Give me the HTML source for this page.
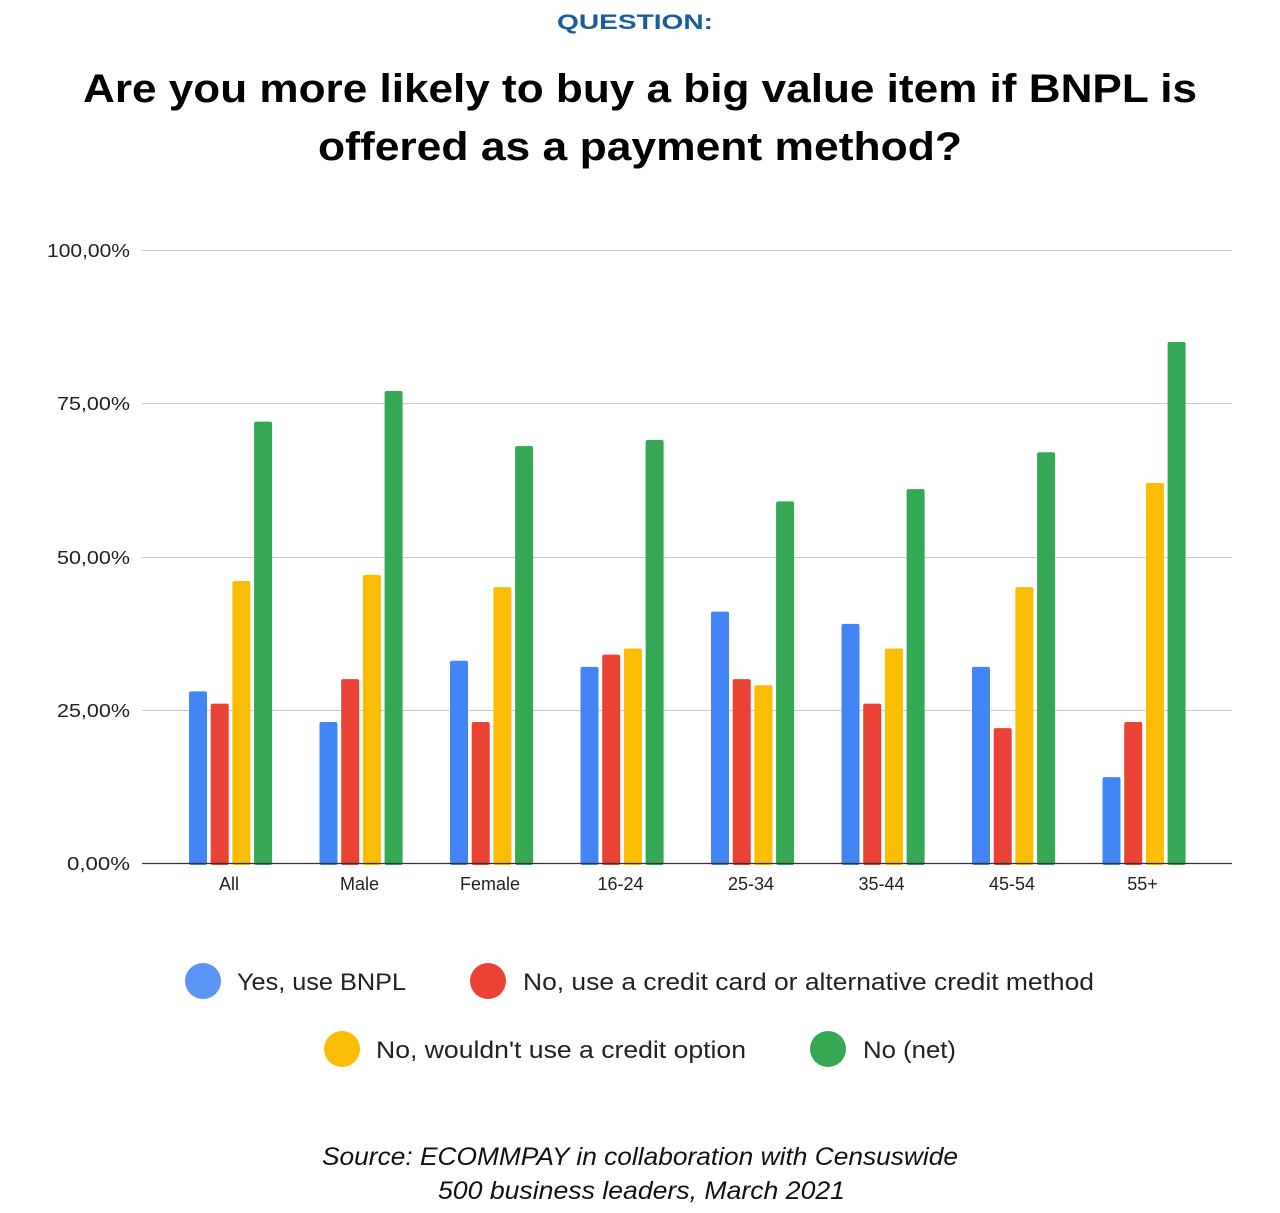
<!DOCTYPE html>
<html><head><meta charset="utf-8"><style>
body{margin:0;background:#fff;width:1280px;height:1208px;overflow:hidden;font-family:"Liberation Sans",sans-serif;}
</style></head><body>
<svg width="1280" height="1208" xmlns="http://www.w3.org/2000/svg" font-family="Liberation Sans, sans-serif">
<text x="557" y="29" font-size="21" font-weight="bold" fill="#1c5c9a" textLength="156" lengthAdjust="spacingAndGlyphs">QUESTION:</text>
<text x="83" y="102" font-size="40" font-weight="bold" fill="#000" textLength="1114" lengthAdjust="spacingAndGlyphs">Are you more likely to buy a big value item if BNPL is</text>
<text x="318" y="160" font-size="40" font-weight="bold" fill="#000" textLength="644" lengthAdjust="spacingAndGlyphs">offered as a payment method?</text>
<g stroke="#cccccc" stroke-width="1">
<line x1="142" y1="250.5" x2="1232" y2="250.5"/>
<line x1="142" y1="403.5" x2="1232" y2="403.5"/>
<line x1="142" y1="557.5" x2="1232" y2="557.5"/>
<line x1="142" y1="710.5" x2="1232" y2="710.5"/>
</g>
<g font-size="18" fill="#222">
<text x="47" y="257" textLength="83" lengthAdjust="spacingAndGlyphs">100,00%</text>
<text x="57" y="410" textLength="73" lengthAdjust="spacingAndGlyphs">75,00%</text>
<text x="57" y="564" textLength="73" lengthAdjust="spacingAndGlyphs">50,00%</text>
<text x="57" y="717" textLength="73" lengthAdjust="spacingAndGlyphs">25,00%</text>
<text x="67" y="870" textLength="63" lengthAdjust="spacingAndGlyphs">0,00%</text>
</g>
<g id="bars"></g>
<line x1="142" y1="863.5" x2="1232" y2="863.5" stroke="#333" stroke-width="1.3"/>
<g font-size="18" fill="#222" text-anchor="middle" id="cats"></g>
<g font-size="24" fill="#222">
<circle cx="203" cy="981" r="18" fill="#5a95f5"/><text x="237" y="990" textLength="169" lengthAdjust="spacingAndGlyphs">Yes, use BNPL</text>
<circle cx="488" cy="981" r="18" fill="#ea4335"/><text x="523" y="990" textLength="571" lengthAdjust="spacingAndGlyphs">No, use a credit card or alternative credit method</text>
<circle cx="342" cy="1049" r="18" fill="#fbbc04"/><text x="376" y="1058" textLength="370" lengthAdjust="spacingAndGlyphs">No, wouldn't use a credit option</text>
<circle cx="828" cy="1049" r="18" fill="#34a853"/><text x="863" y="1058" textLength="93" lengthAdjust="spacingAndGlyphs">No (net)</text>
</g>
<g font-size="25" font-style="italic" fill="#111">
<text x="322" y="1165" textLength="636" lengthAdjust="spacingAndGlyphs">Source: ECOMMPAY in collaboration with Censuswide</text>
<text x="438" y="1199" textLength="407" lengthAdjust="spacingAndGlyphs">500 business leaders, March 2021</text>
</g>
</svg>
<script>
var d=[[28,26,46,72],[23,30,47,77],[33,23,45,68],[32,34,35,69],[41,30,29,59],[39,26,35,61],[32,22,45,67],[14,23,62,85]];
var n=["All","Male","Female","16-24","25-34","35-44","45-54","55+"];
var c=["#4285f4","#ea4335","#fbbc04","#34a853"];
var b=document.getElementById("bars"),t=document.getElementById("cats"),s="",u="";
for(var i=0;i<8;i++){var x0=189+130.5*i;
for(var j=0;j<4;j++){var h=d[i][j]*6.13,x=x0+j*21.7;
s+='<rect x="'+x+'" y="'+(863-h)+'" width="18" height="'+(h+2)+'" rx="2" fill="'+c[j]+'"/>';}
u+='<text x="'+(x0+40)+'" y="890">'+n[i]+'</text>';}
b.innerHTML=s;t.innerHTML=u;
</script>
</body></html>
